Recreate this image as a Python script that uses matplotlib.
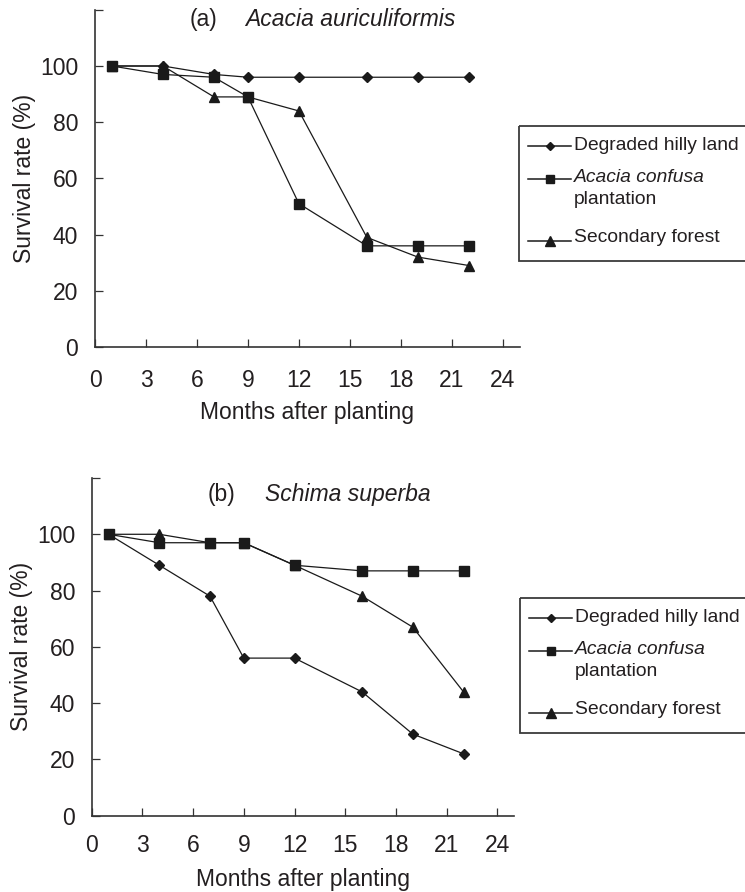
import matplotlib
matplotlib.use('Agg')
import matplotlib.pyplot as plt
from matplotlib.patches import Rectangle

# === DATA ===
months = [1, 4, 7, 9, 12, 16, 19, 22]
x_ticks = [0, 3, 6, 9, 12, 15, 18, 21, 24]
y_ticks = [0, 20, 40, 60, 80, 100, 120]
y_tick_labels = ['0', '20', '40', '60', '80', '100', '']

# (a) Acacia auriculiformis
a_degraded = [100, 100, 97, 96, 96, 96, 96, 96]
a_acacia = [100, 97, 96, 89, 51, 36, 36, 36]
a_secondary = [100, 100, 89, 89, 84, 39, 32, 29]

# (b) Schima superba
b_degraded = [100, 89, 78, 56, 56, 44, 29, 22]
b_acacia = [100, 97, 97, 97, 89, 87, 87, 87]
b_secondary = [100, 100, 97, 97, 89, 78, 67, 44]

# === STYLE ===
plt.rcParams['font.family'] = ['Liberation Sans', 'DejaVu Sans']
INK = '#231f20'
LINE = '#1a1a1a'
FS = 16.5
LEG_FS = 13.9

W, H = 745, 892
fig = plt.figure(figsize=(W / 100, H / 100), dpi=100)


def px_axes(left, right, bottom, top):
    return fig.add_axes([left / W, 1 - bottom / H, (right - left) / W, (bottom - top) / H])


def draw_panel(ax, deg, aca, sec, tag, species, tag_x, sp_x, title_y, xpad, xlabelpad):
    ax.plot(months, deg, color=LINE, lw=0.9, marker='D', ms=5.1, mfc=LINE, mec=LINE)
    ax.plot(months, sec, color=LINE, lw=0.9, marker='^', ms=7.5, mfc=LINE, mec=LINE)
    ax.plot(months, aca, color=LINE, lw=0.9, marker='s', ms=6.8, mfc=LINE, mec=LINE)
    ax.set_xlim(0, 25)
    ax.set_ylim(0, 120)
    ax.set_xticks(x_ticks)
    ax.set_yticks(y_ticks)
    ax.set_yticklabels(y_tick_labels)
    for s in ['top', 'right']:
        ax.spines[s].set_visible(False)
    for s in ['left', 'bottom']:
        ax.spines[s].set_linewidth(1.2)
        ax.spines[s].set_color('#333333')
    ax.tick_params(direction='in', length=5.5, width=0.9, color='#333333',
                   labelsize=FS, labelcolor=INK)
    ax.tick_params(axis='x', pad=xpad)
    ax.tick_params(axis='y', pad=12)
    ax.set_xlabel('Months after planting', fontsize=FS, color=INK, labelpad=xlabelpad)
    ax.set_ylabel('Survival rate (%)', fontsize=FS, color=INK, labelpad=3)
    ax.text(tag_x, title_y, tag, transform=ax.transAxes, fontsize=FS, color=INK, va='center')
    ax.text(sp_x, title_y, species, transform=ax.transAxes, fontsize=FS, color=INK,
            va='center', style='italic')


ax_a = px_axes(95, 519.8, 347, 9.8)
draw_panel(ax_a, a_degraded, a_acacia, a_secondary, '(a)', 'Acacia auriculiformis',
           0.2235, 0.353, 0.97, 16, 6)

ax_b = px_axes(91.7, 514.2, 815.7, 478)
draw_panel(ax_b, b_degraded, b_acacia, b_secondary, '(b)', 'Schima superba',
           0.2753, 0.4104, 0.95, 13, 8)

# === KEYS (drawn by hand so the wrapped label sits like the original) ===
overlay = fig.add_axes([0, 0, 1, 1], zorder=5)
overlay.set_xlim(0, W)
overlay.set_ylim(H, 0)
overlay.axis('off')


def draw_key(left, top):
    overlay.add_patch(Rectangle((left, top), 300, 135, fill=False, ec='#3a3a3a', lw=1.3))
    entries = [('D', 4.2, 20), ('s', 6.3, 53), ('^', 6.8, 115)]
    for marker, ms, ly in entries:
        overlay.plot([left + 9, left + 52], [top + ly, top + ly], color=LINE, lw=1.1)
        overlay.plot([left + 31], [top + ly], marker=marker, ms=ms, color=LINE)
    tx = left + 55
    overlay.text(tx, top + 20, 'Degraded hilly land', fontsize=LEG_FS, color=INK, va='center')
    overlay.text(tx, top + 52, 'Acacia confusa', fontsize=LEG_FS, color=INK, va='center',
                 style='italic')
    overlay.text(tx, top + 74, 'plantation', fontsize=LEG_FS, color=INK, va='center')
    overlay.text(tx, top + 111, 'Secondary forest', fontsize=LEG_FS, color=INK, va='center')


draw_key(519, 126)
draw_key(520, 598)

fig.savefig('out.png', dpi=100)
